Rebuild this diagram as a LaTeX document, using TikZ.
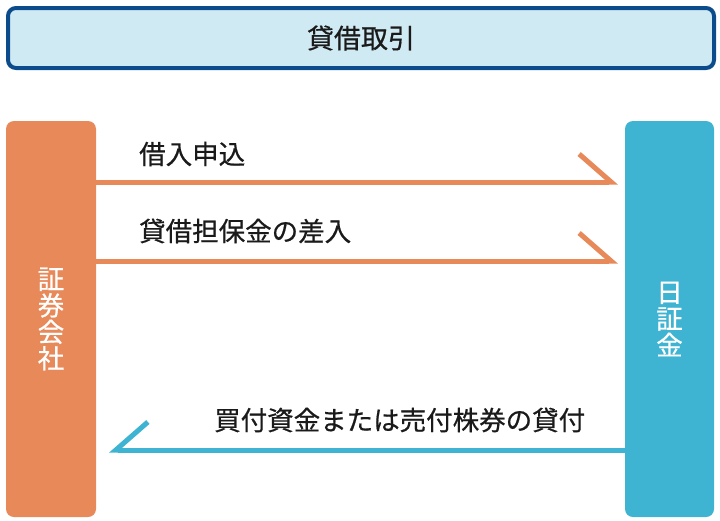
\documentclass[tikz,border=0pt]{standalone}
\usepackage{fontspec}
\newfontfamily\cjk[FakeBold=0.6]{Noto Sans CJK JP}
\usetikzlibrary{arrows.meta, positioning}

\definecolor{secorange}{HTML}{E8895A}
\definecolor{jsfcyan}{HTML}{3FB4D2}
\definecolor{titlefill}{HTML}{D0EAF3}
\definecolor{titleline}{HTML}{0D4C8C}
\definecolor{labeltext}{HTML}{1A1A1A}

\tikzset{
  titlebox/.style={draw=titleline, line width=4pt, fill=titlefill, rounded corners=8pt,
    minimum width=706pt, minimum height=60pt, text=labeltext,
    font=\cjk\fontsize{27}{29}\selectfont},
  partybox/.style={rounded corners=8pt, minimum height=396pt, text=white, align=center,
    font=\cjk\fontsize{26.5}{26.5}\selectfont},
  flowlabel/.style={anchor=west, inner sep=0pt, text=labeltext,
    font=\cjk\fontsize{26.5}{28}\selectfont},
  flowline/.style={line width=5pt, miter limit=20},
}

\begin{document}
\begin{tikzpicture}[x=1pt, y=-1pt]
  \useasboundingbox (0,0) rectangle (720,520);

  % Title
  \node (title) [titlebox] at (361,38) {貸借取引};

  % Parties
  \node (sec) [partybox, fill=secorange, minimum width=90pt] at (51,319) {証\\券\\会\\社};
  \node (jsf) [partybox, fill=jsfcyan, minimum width=89pt] at (669.5,319) {日\\証\\金};

  % Rows of the flows
  \coordinate (row1) at (0,182);
  \coordinate (row2) at (0,261);
  \coordinate (row3) at (0,450);

  % Labels
  \node (apply) [flowlabel] at (139,154) {借入申込};
  \node (margin) [flowlabel] at (139,231) {貸借担保金の差入};
  \node (loan) [flowlabel] at (214,420) {買付資金または売付株券の貸付};

  % Securities company to JSF
  \draw[flowline, secorange, shorten >=7pt,
    -{Straight Barb[left, length=32pt, width=56pt, line width=5pt]}]
    (sec.east |- row1) -- (jsf.west |- row1);
  \draw[flowline, secorange, shorten >=7pt,
    -{Straight Barb[left, length=32pt, width=56pt, line width=5pt]}]
    (sec.east |- row2) -- (jsf.west |- row2);

  % JSF to securities company
  \draw[flowline, jsfcyan, shorten >=13pt,
    -{Straight Barb[right, length=32pt, width=56pt, line width=5pt]}]
    (jsf.west |- row3) -- (sec.east |- row3);
\end{tikzpicture}
\end{document}
